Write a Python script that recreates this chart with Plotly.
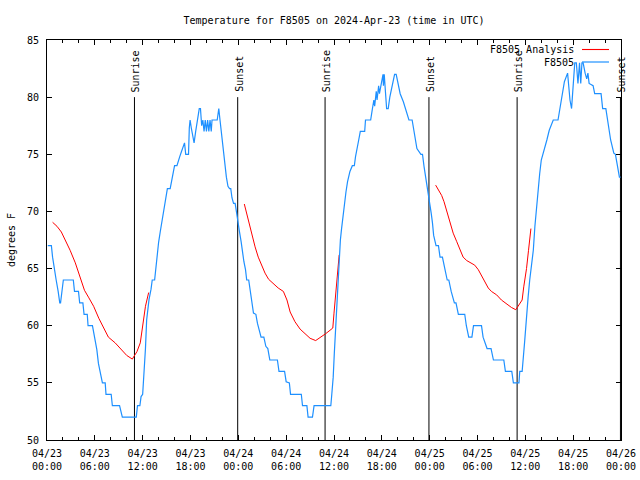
import plotly.graph_objects as go
import pandas as pd

# ---------------- data (hours after 2024-04-23 00:00 UTC) ----------------
blue_hours = [0.1, 0.55, 0.7, 0.9, 1.15, 1.4, 1.6, 1.7, 1.85, 2.05, 3.3, 3.45, 3.95, 4.1, 4.5, 4.65,
              5.05, 5.15, 5.7, 5.85, 6.05, 6.25, 6.45, 6.7, 6.95, 7.3, 7.4, 8.05, 8.2, 9.1, 9.45,
              11.2, 11.35, 11.65, 11.8, 12.0, 12.15, 12.35, 12.5, 12.8, 13.05, 13.2, 13.5, 13.7,
              13.85, 14.0, 14.2, 14.4, 14.6, 14.8, 14.95, 15.1, 15.45, 15.7, 15.9, 16.0, 16.3,
              16.45, 16.65, 16.85, 17.05, 17.25, 17.4, 17.75, 17.85, 17.95, 18.1, 18.45, 18.65,
              18.9, 19.1, 19.25, 19.4, 19.55, 19.7, 19.85, 20.0, 20.15, 20.3, 20.45, 20.6, 20.7,
              21.35, 21.45, 21.55, 21.7, 21.9, 22.05, 22.15, 22.3, 22.5, 22.7, 22.9, 23.05, 23.2,
              23.4, 23.6, 23.8, 23.95, 24.1, 24.35, 24.5, 24.7, 24.9, 25.05, 25.3, 25.5, 25.7,
              25.9, 26.2, 26.4, 26.85, 27.2, 27.45, 27.7, 27.95, 28.9, 29.1, 29.8, 30.0, 30.4,
              30.55, 31.9, 32.05, 32.6, 32.75, 33.3, 33.5, 35.6, 35.7, 35.9, 36.04, 36.2, 36.3,
              36.45, 36.6, 36.7, 36.8, 36.95, 37.1, 37.3, 37.5, 37.7, 38.0, 38.3, 38.55, 38.7,
              38.85, 39.1, 39.3, 39.85, 39.95, 40.6, 40.8, 41.0, 41.1, 41.3, 41.4, 41.6, 41.7,
              42.0, 42.15, 42.2, 42.3, 42.6, 42.8, 43.0, 43.3, 43.6, 43.8, 44.0, 44.3, 44.7,
              45.0, 45.4, 45.8, 46.0, 46.2, 46.4, 46.9, 47.1, 47.3, 47.5, 47.7, 47.9, 48.05,
              48.2, 48.35, 48.5, 48.8, 49.1, 49.3, 49.6, 49.9, 50.2, 50.4, 50.7, 51.1, 51.3,
              51.6, 52.4, 52.6, 52.9, 53.3, 53.5, 54.5, 54.7, 55.2, 55.7, 56.0, 57.3, 57.5,
              58.3, 58.5, 59.2, 59.3, 59.6, 59.9, 60.1, 60.35, 60.55, 61.0, 61.2, 61.4, 61.6,
              61.8, 62.0, 62.4, 62.7, 63.0, 63.5, 64.1, 64.3, 64.5, 64.7, 64.9, 65.3, 65.4,
              65.6, 65.8, 66.0, 66.2, 66.4, 66.6, 66.8, 66.95, 67.1, 67.25, 67.5, 67.7, 67.85,
              68.0, 68.5, 68.7, 69.5, 69.7, 70.1, 70.3, 70.5, 70.7, 71.1, 71.3, 71.5, 71.8, 71.95]
blue_temps = [67, 67, 66, 65, 64, 63, 62, 62, 63, 64, 64, 63, 63, 62, 62, 61,
              61, 60, 60, 59.5, 58.7, 57.9, 56.7, 55.8, 55, 55, 54, 54, 53, 53, 52,
              52, 53, 53, 53.8, 54, 55.5, 58, 60.5, 62.3, 63.2, 64, 64, 65.5,
              66.3, 67.3, 68.2, 69.1, 69.8, 70.6, 71.2, 72, 72, 72.9, 73.8, 74, 74,
              74.4, 74.8, 75.2, 75.7, 76, 75, 75, 77.3, 78, 77.3, 76, 77,
              78, 79, 79, 77.5, 78, 77, 78, 77, 78, 77, 78, 77, 78,
              78, 78.5, 79, 78, 76.8, 75.5, 75, 73.9, 73, 72.2, 72, 72, 71.2,
              70.7, 70.7, 69.8, 69.25, 68.4, 67.35, 66.5, 65.6, 64.9, 64, 64, 63.1, 62.1,
              61.1, 61, 60.2, 59, 59, 58.2, 58, 57, 57, 56, 56, 55.1, 55,
              54, 54, 53, 53, 52, 52, 53, 53, 53.8, 55.5, 57.6, 59.6, 61.7,
              63.2, 64.6, 66.3, 67.5, 68.5, 69.5, 70.7, 71.7, 72.6, 73.5, 74, 74, 74.8,
              75.5, 76.25, 77, 77, 78, 78, 78.9, 79.75, 79.2, 80.5, 79.75, 81, 80.3,
              81.5, 82, 81, 82, 79, 79, 80, 81, 82, 82, 81.35, 80.3, 79.6,
              78.9, 78, 78, 77.1, 76.4, 75.5, 75, 75, 73.9, 73, 72.2, 71.3, 70.8,
              69.8, 69, 67.9, 67, 67, 66, 66, 65, 64, 64, 63, 62, 62,
              61, 61, 60, 59, 59, 60, 60, 59, 58, 58, 57, 57, 56,
              56, 55, 55, 56, 56, 58.5, 60.5, 62.5, 64, 66.6, 68.7, 70.4, 72.2,
              73.3, 74.5, 75.4, 76.25, 77.1, 78, 78, 78.9, 79.75, 80.6, 81.35, 82.1, 81.2,
              79.75, 79, 81.5, 83, 83, 81.2, 83, 81.2, 83, 83, 82.1, 81.6, 82.1,
              81.2, 81, 80.3, 80.3, 79, 79, 78, 77.1, 76.25, 75.1, 75, 74.2, 73, 73]

red1_hours = [0.7, 1.25, 1.8, 2.3, 2.9, 3.55, 4.2, 4.7, 5.2, 5.85, 6.5, 7.1, 7.7, 8.55, 9.4,
              10.0, 10.7, 11.28, 11.7, 12.0, 12.35, 12.75]
red1_temps = [69.05, 68.7, 68.2, 67.5, 66.6, 65.5, 64.15, 63.1, 62.5, 61.7, 60.65, 59.8, 59.0,
              58.5, 57.9, 57.4, 57.08, 57.73, 58.5, 60.2, 61.7, 62.9]
red2_hours = [24.75, 25.05, 25.35, 25.7, 26.1, 26.5, 26.95, 27.35, 27.8, 28.4, 29.0, 29.65, 30.1,
              30.5, 31.1, 31.75, 32.4, 33.0, 33.7, 34.4, 34.95, 35.5, 35.85, 36.0, 36.2, 36.35,
              36.5, 36.65]
red2_temps = [70.65, 69.8, 68.95, 67.9, 66.9, 66.0, 65.2, 64.6, 64.06, 63.65, 63.3, 63.0, 62.25,
              61.2, 60.35, 59.7, 59.3, 58.9, 58.7, 59.0, 59.3, 59.6, 59.8, 61.1, 62.8, 64.0,
              65.2, 66.2]
red3_hours = [48.75, 49.1, 49.5, 49.8, 50.1, 50.55, 50.95, 51.4, 51.8, 52.2, 52.65, 53.25, 53.65,
              54.1, 54.5, 54.9, 55.35, 55.75, 56.4, 57.0, 57.65, 58.25, 58.8, 59.2, 59.6, 59.8,
              60.0, 60.15, 60.4, 60.6, 60.7]
red3_temps = [72.3, 71.9, 71.4, 70.85, 70.1, 68.95, 68.1, 67.35, 66.6, 66.0, 65.7, 65.5, 65.3,
              64.9, 64.4, 63.85, 63.3, 63.0, 62.7, 62.25, 61.9, 61.6, 61.4, 61.8, 62.25, 63.4,
              64.2, 65.0, 66.6, 68.1, 68.5]

event_hours = [10.97, 23.92, 34.88, 47.91, 58.97, 71.93]
event_labels = ["Sunrise", "Sunset", "Sunrise", "Sunset", "Sunrise", "Sunset"]

tick_hours = [0, 6, 12, 18, 24, 30, 36, 42, 48, 54, 60, 66, 72]
tick_labels = ["04/23<br>00:00", "04/23<br>06:00", "04/23<br>12:00", "04/23<br>18:00",
               "04/24<br>00:00", "04/24<br>06:00", "04/24<br>12:00", "04/24<br>18:00",
               "04/25<br>00:00", "04/25<br>06:00", "04/25<br>12:00", "04/25<br>18:00",
               "04/26<br>00:00"]

BASE = pd.Timestamp("2024-04-23 00:00")


def ts(hours):
    return [BASE + pd.Timedelta(hours=h) for h in hours]


FONT = "DejaVu Sans Mono"
FS = 10
RED = "#ff0000"
BLUE = "#1e90ff"

fig = go.Figure()
for hrs, tmp in [(red1_hours, red1_temps), (red2_hours, red2_temps), (red3_hours, red3_temps)]:
    fig.add_trace(go.Scatter(x=ts(hrs), y=tmp, mode="lines", name="F8505 Analysis",
                             line=dict(color=RED, width=1), showlegend=False, hoverinfo="skip"))
fig.add_trace(go.Scatter(x=ts(blue_hours), y=blue_temps, mode="lines", name="F8505",
                         line=dict(color=BLUE, width=1.2), showlegend=False))

# sunrise / sunset markers
for h, lab in zip(event_hours, event_labels):
    t = BASE + pd.Timedelta(hours=h)
    fig.add_shape(type="line", x0=t, x1=t, y0=50, y1=80, xref="x", yref="y",
                  line=dict(color="black", width=1), layer="below")
    fig.add_annotation(x=t, y=80, xref="x", yref="y", text=lab, textangle=-90,
                       showarrow=False, xanchor="center", yanchor="bottom", yshift=3, xshift=1,
                       font=dict(family=FONT, size=FS, color="black"))

# manual gnuplot-style key (text right-justified, sample to the right)
W, H, L, T = 574.0, 400.0, 47.0, 40.0
def px(x):
    return (x - L) / W
def py(y):
    return (T + H - y) / H

for lab, col, yy in [("F8505 Analysis", RED, 49.5), ("F8505", BLUE, 62)]:
    fig.add_annotation(x=px(576), y=py(yy), xref="paper", yref="paper", text=lab,
                       showarrow=False, xanchor="right", yanchor="middle",
                       font=dict(family=FONT, size=FS, color="black"))
    fig.add_shape(type="line", x0=px(582), x1=px(609), y0=py(yy), y1=py(yy),
                  xref="paper", yref="paper",
                  line=dict(color=col, width=1.2 if col == BLUE else 1.1))

fig.update_layout(
    width=640, height=480,
    margin=dict(l=47, r=19, t=40, b=40, autoexpand=False),
    paper_bgcolor="white", plot_bgcolor="white",
    font=dict(family=FONT, size=FS, color="black"),
    title=dict(text="Temperature for F8505 on 2024-Apr-23 (time in UTC)",
               x=0.5, xref="paper", xanchor="center", y=1 - 20 / 480, yref="container",
               yanchor="middle", font=dict(family=FONT, size=FS, color="black")),
    showlegend=False,
)
fig.update_xaxes(
    type="date", range=[BASE, BASE + pd.Timedelta(hours=72)], automargin=False,
    tickvals=ts(tick_hours), ticktext=tick_labels,
    ticks="inside", ticklen=5, tickcolor="black", tickwidth=1,
    minor=dict(ticks="inside", ticklen=3, dtick=2 * 3600 * 1000, tick0=BASE, tickcolor="black"),
    showline=True, linecolor="black", linewidth=1, mirror="ticks",
    showgrid=False, zeroline=False, ticklabelstandoff=4,
    tickfont=dict(family=FONT, size=FS, color="black"),
)
fig.update_yaxes(
    range=[50, 85], dtick=5, tick0=50, automargin=False,
    ticks="inside", ticklen=5, tickcolor="black", tickwidth=1,
    showline=True, linecolor="black", linewidth=1, mirror="ticks",
    showgrid=False, zeroline=False, ticklabelstandoff=5,
    tickfont=dict(family=FONT, size=FS, color="black"),
    title=dict(text="degrees F", standoff=9, font=dict(family=FONT, size=FS, color="black")),
)

fig.write_html(
    "out.html",
    config={"displayModeBar": False},
    post_script="document.body.style.margin='0';document.body.style.padding='0';"
                "document.body.style.overflow='hidden';",
)
